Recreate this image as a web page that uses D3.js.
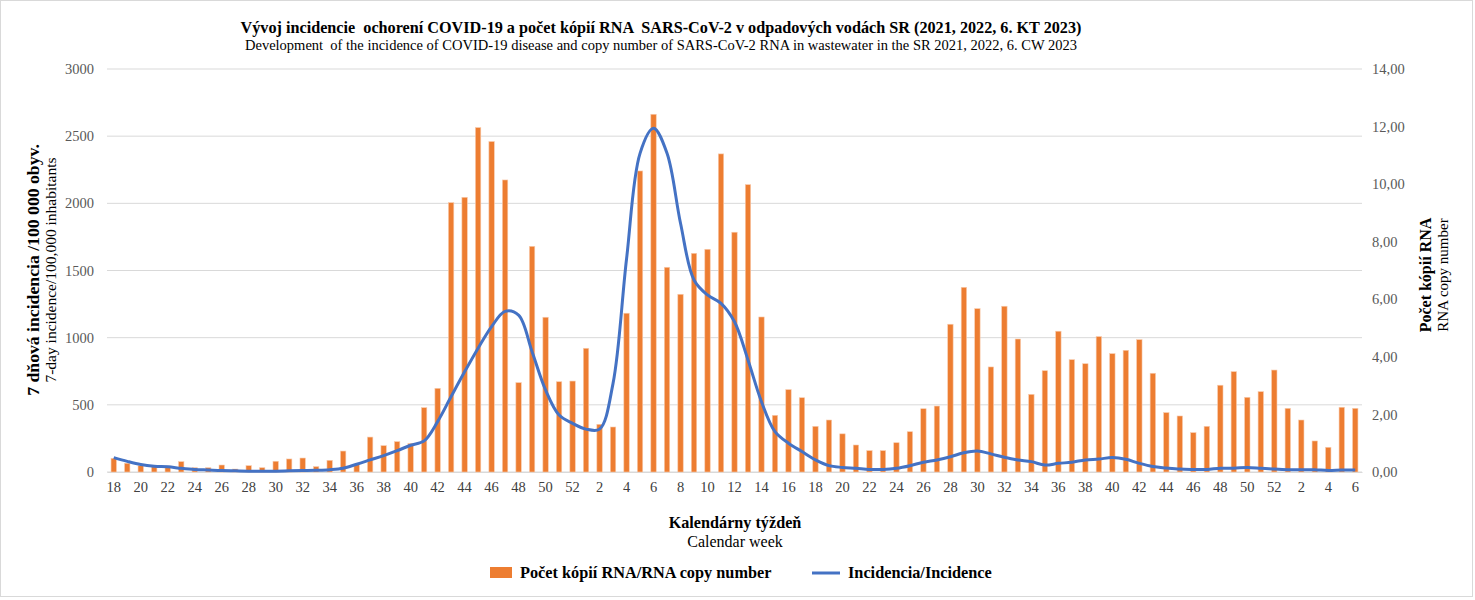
<!DOCTYPE html>
<html>
<head>
<meta charset="utf-8">
<script src="https://cdn.jsdelivr.net/npm/d3@7"></script>
<style>
  body { margin: 0; background: #fff; }
  svg text { font-family: "Liberation Serif", "Times New Roman", serif; }
  .pre { white-space: pre; }
</style>
</head>
<body>
<div id="chart"></div>
<script>
// kalendarne tyzdne: 2021 (18-52), 2022 (1-52), 2023 (1-6)
const weeks2021 = d3.range(18, 53);
const weeks2022 = d3.range(1, 53);
const weeks2023 = d3.range(1, 7);
const weeks = weeks2021.concat(weeks2022, weeks2023);

// Pocet kopii RNA (stlpce, lava os)
const copyNumber = [
  102, 65, 47, 40, 45, 77, 32, 32, 52, 22, 47, 32, 80, 97, 104, 40, 87, 156, 57, 260,
  196, 226, 212, 479, 623, 2005, 2045, 2564, 2460, 2174, 665, 1680, 1152, 672, 677,
  921, 355, 335, 1182, 2241, 2663, 1524, 1323, 1628, 1658, 2368, 1785, 2139, 1154, 422,
  613, 553, 340, 387, 284, 201, 159, 159, 218, 300, 471, 491, 1100, 1375, 1216, 782,
  1234, 990, 578, 754, 1048, 836, 806, 1008, 881, 906, 985, 735, 442, 417, 293, 340,
  646, 747, 556, 598, 759,
  474, 387, 231, 184, 482, 474
];

// Incidencia (ciara, prava os)
const incidence = [
  0.50, 0.37, 0.26, 0.20, 0.18, 0.13, 0.09, 0.07, 0.05, 0.04, 0.03, 0.03, 0.03, 0.04,
  0.05, 0.06, 0.08, 0.13, 0.27, 0.42, 0.57, 0.74, 0.93, 1.08, 1.75, 2.62, 3.48, 4.30,
  5.05, 5.58, 5.45, 4.18, 2.85, 1.98, 1.69,
  1.49, 1.49, 3.08, 7.40, 11.07, 11.94, 11.07, 8.64, 6.67, 6.15, 5.86, 5.22, 3.89, 2.44,
  1.40, 1.00, 0.71, 0.42, 0.22, 0.16, 0.13, 0.09, 0.09, 0.13, 0.22, 0.34, 0.42, 0.53,
  0.67, 0.73, 0.63, 0.51, 0.42, 0.36, 0.24, 0.30, 0.34, 0.42, 0.45, 0.50, 0.44, 0.30,
  0.19, 0.14, 0.10, 0.09, 0.09, 0.13, 0.13, 0.16, 0.13, 0.10,
  0.08, 0.08, 0.08, 0.05, 0.07, 0.07
];

const leftTicks = [0, 500, 1000, 1500, 2000, 2500, 3000];
const rightTicks = [0, 2, 4, 6, 8, 10, 12, 14];

const width = 1475, height = 600;
const margin = { top: 69, right: 113, bottom: 128, left: 107 };
const innerW = width - margin.left - margin.right;
const innerH = height - margin.top - margin.bottom;

const svg = d3.select("#chart").append("svg")
  .attr("width", width)
  .attr("height", height);

// ramcek grafu
svg.append("rect")
  .attr("x", 0.5).attr("y", 0.5)
  .attr("width", width - 3).attr("height", height - 4)
  .attr("fill", "#fff")
  .attr("stroke", "#d9d9d9");

const g = svg.append("g").attr("transform", `translate(${margin.left},${margin.top})`);

const x = d3.scaleBand()
  .domain(d3.range(weeks.length))
  .range([0, innerW])
  .paddingInner(0.6)
  .paddingOuter(0.3);

const yLeft = d3.scaleLinear().domain([0, 3000]).range([innerH, 0]);
const yRight = d3.scaleLinear().domain([0, 14]).range([innerH, 0]);

// mriezka
g.selectAll(".grid")
  .data(leftTicks)
  .enter()
  .append("line")
  .attr("class", "grid")
  .attr("x1", 0).attr("x2", innerW)
  .attr("y1", d => yLeft(d)).attr("y2", d => yLeft(d))
  .attr("stroke", "#d9d9d9")
  .attr("stroke-width", 1);

// lava os
const axisL = g.append("g")
  .call(d3.axisLeft(yLeft).tickValues(leftTicks).tickSize(0).tickPadding(13).tickFormat(d3.format("d")));
axisL.select(".domain").remove();
axisL.selectAll("text")
  .attr("font-size", 14.5)
  .attr("fill", "#595959")
  .style("font-family", "Liberation Serif");

// prava os
const axisR = g.append("g")
  .attr("transform", `translate(${innerW},0)`)
  .call(d3.axisRight(yRight).tickValues(rightTicks).tickSize(0).tickPadding(10)
    .tickFormat(d => d3.format(".2f")(d).replace(".", ",")));
axisR.select(".domain").remove();
axisR.selectAll("text")
  .attr("font-size", 14.5)
  .attr("fill", "#595959")
  .style("font-family", "Liberation Serif");

// os x - kazdy druhy tyzden
const axisX = g.append("g")
  .attr("transform", `translate(0,${innerH})`)
  .call(d3.axisBottom(x)
    .tickValues(d3.range(0, weeks.length, 2))
    .tickSize(0).tickPadding(10)
    .tickFormat(i => weeks[i]));
axisX.select(".domain").attr("stroke", "#d9d9d9");
axisX.selectAll("text")
  .attr("font-size", 14.5)
  .attr("fill", "#404040")
  .style("font-family", "Liberation Serif");

// stlpce
g.selectAll(".bar")
  .data(copyNumber)
  .enter()
  .append("rect")
  .attr("class", "bar")
  .attr("x", (d, i) => x(i))
  .attr("y", d => yLeft(d))
  .attr("width", x.bandwidth())
  .attr("height", d => innerH - yLeft(d))
  .attr("fill", "#ed7d31")
  .attr("stroke", "#f8cbad")
  .attr("stroke-width", 0.6);

// ciara incidencie
const line = d3.line()
  .x((d, i) => x(i) + x.bandwidth() / 2)
  .y(d => yRight(d))
  .curve(d3.curveCatmullRom.alpha(0.5));

g.append("path")
  .datum(incidence)
  .attr("fill", "none")
  .attr("stroke", "#4472c4")
  .attr("stroke-width", 3)
  .attr("stroke-linejoin", "round")
  .attr("d", line);

// nadpisy
svg.append("text")
  .attr("class", "pre")
  .attr("x", 661).attr("y", 33)
  .attr("text-anchor", "middle")
  .attr("font-size", 16.2)
  .attr("font-weight", "bold")
  .attr("fill", "#000")
  .text("Vývoj incidencie  ochorení COVID-19 a počet kópií RNA  SARS-CoV-2 v odpadových vodách SR (2021, 2022, 6. KT 2023)");

svg.append("text")
  .attr("class", "pre")
  .attr("x", 661).attr("y", 50)
  .attr("text-anchor", "middle")
  .attr("font-size", 14.5)
  .attr("fill", "#000")
  .text("Development  of the incidence of COVID-19 disease and copy number of SARS-CoV-2 RNA in wastewater in the SR 2021, 2022, 6. CW 2023");

// nazov lavej osi
const leftTitle = svg.append("text")
  .attr("transform", `translate(39,270) rotate(-90)`)
  .attr("text-anchor", "middle");
leftTitle.append("tspan")
  .attr("x", 0).attr("dy", 0)
  .attr("font-size", 17.7).attr("font-weight", "bold")
  .text("7 dňová incidencia /100 000 obyv.");
leftTitle.append("tspan")
  .attr("x", 0).attr("dy", 17)
  .attr("font-size", 15.5)
  .text("7-day incidence/100,000 inhabitants");

// nazov pravej osi
const rightTitle = svg.append("text")
  .attr("transform", `translate(1431,275) rotate(-90)`)
  .attr("text-anchor", "middle");
rightTitle.append("tspan")
  .attr("x", 0).attr("dy", 0)
  .attr("font-size", 16).attr("font-weight", "bold")
  .text("Počet kópií RNA");
rightTitle.append("tspan")
  .attr("x", 0).attr("dy", 17)
  .attr("font-size", 15)
  .text("RNA copy number");

// nazov osi x
svg.append("text")
  .attr("x", 735).attr("y", 528)
  .attr("text-anchor", "middle")
  .attr("font-size", 16.2).attr("font-weight", "bold")
  .text("Kalendárny týždeň");
svg.append("text")
  .attr("x", 735).attr("y", 547)
  .attr("text-anchor", "middle")
  .attr("font-size", 16)
  .text("Calendar week");

// legenda
const legend = svg.append("g").attr("transform", "translate(490,573)");
legend.append("rect")
  .attr("x", 0).attr("y", -6)
  .attr("width", 22).attr("height", 11)
  .attr("fill", "#ed7d31");
legend.append("text")
  .attr("x", 30).attr("y", 5)
  .attr("font-size", 16.3).attr("font-weight", "bold")
  .attr("fill", "#000")
  .text("Počet kópií RNA/RNA copy number");
legend.append("line")
  .attr("x1", 322).attr("x2", 350)
  .attr("y1", 0).attr("y2", 0)
  .attr("stroke", "#4472c4").attr("stroke-width", 3);
legend.append("text")
  .attr("x", 358).attr("y", 5)
  .attr("font-size", 16.3).attr("font-weight", "bold")
  .attr("fill", "#000")
  .text("Incidencia/Incidence");
</script>
</body>
</html>
